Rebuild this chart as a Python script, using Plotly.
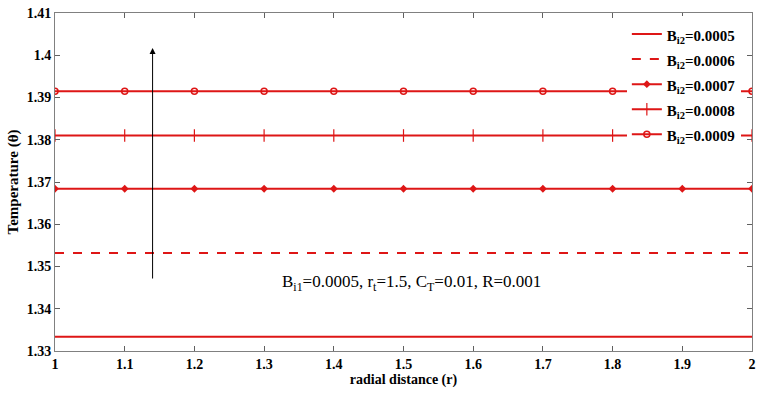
import plotly.graph_objects as go

# radial positions where the temperature profile is sampled
radial = [1.0, 1.1, 1.2, 1.3, 1.4, 1.5, 1.6, 1.7, 1.8, 1.9, 2.0]

# temperature for each value of Bi2 (profiles are flat in r)
bi2_labels = ["0.0005", "0.0006", "0.0007", "0.0008", "0.0009"]
theta_0005 = [1.3334] * 11
theta_0006 = [1.3532] * 11
theta_0007 = [1.3684] * 11
theta_0008 = [1.3810] * 11
theta_0009 = [1.3915] * 11
series = [theta_0005, theta_0006, theta_0007, theta_0008, theta_0009]

y_ticks = [1.33, 1.34, 1.35, 1.36, 1.37, 1.38, 1.39, 1.40, 1.41]
y_tick_text = ["1.33", "1.34", "1.35", "1.36", "1.37", "1.38", "1.39", "1.4", "1.41"]
x_ticks = [1.0, 1.1, 1.2, 1.3, 1.4, 1.5, 1.6, 1.7, 1.8, 1.9, 2.0]
x_tick_text = ["1", "1.1", "1.2", "1.3", "1.4", "1.5", "1.6", "1.7", "1.8", "1.9", "2"]

RED = "rgb(222,22,22)"
FONT = "Liberation Serif, Times New Roman, serif"

styles = [
    dict(mode="lines", line=dict(color=RED, width=2)),
    dict(mode="lines", line=dict(color=RED, width=2, dash="dash")),
    dict(mode="lines+markers", line=dict(color=RED, width=2),
         marker=dict(symbol="diamond", size=6, color=RED)),
    dict(mode="lines+markers", line=dict(color=RED, width=2),
         marker=dict(symbol="line-ns", size=9, line=dict(color=RED, width=1.2))),
    dict(mode="lines+markers", line=dict(color=RED, width=2),
         marker=dict(symbol="circle-open", size=6, line=dict(color=RED, width=1.5))),
]

fig = go.Figure()
for lab, vals, st in zip(bi2_labels, series, styles):
    name = '<span style="font-size:15px"><b>B<sub>i2</sub>=%s</b></span>' % lab
    fig.add_trace(go.Scatter(x=radial, y=vals, name=name, **st))

# arrow indicating increasing Bi2
fig.add_annotation(x=1.14, y=1.4017, ax=1.14, ay=1.3468, xref="x", yref="y",
                   axref="x", ayref="y", showarrow=True, arrowhead=2, arrowsize=1.2,
                   arrowwidth=1, arrowcolor="black", text="")

fig.add_annotation(x=1.512, y=1.3461, xref="x", yref="y", showarrow=False,
                   text="B<sub>i1</sub>=0.0005, r<sub>t</sub>=1.5, C<sub>T</sub>=0.01, R=0.001",
                   font=dict(family=FONT, size=17, color="black"))

axis_common = dict(showline=True, linecolor="#808080", linewidth=1, mirror="ticks",
                   ticks="inside", ticklen=5, tickcolor="#606060", showgrid=False,
                   zeroline=False, ticklabeloverflow="allow",
                   tickfont=dict(family=FONT, size=14, color="black"))

fig.update_xaxes(range=[1, 2], tickvals=x_ticks, ticktext=["<b>%s</b>" % t for t in x_tick_text],
                 title=dict(text="<b>radial distance (r)</b>", standoff=3,
                            font=dict(family=FONT, size=14, color="black")),
                 **axis_common)
fig.update_yaxes(range=[1.33, 1.41], tickvals=y_ticks, ticktext=["<b>%s</b>" % t for t in y_tick_text],
                 title=dict(text="<b>Temperature (θ)</b>", standoff=4,
                            font=dict(family=FONT, size=15, color="black")),
                 **axis_common)

fig.update_layout(
    width=758, height=394,
    margin=dict(l=55, r=2, t=13, b=43),
    paper_bgcolor="white", plot_bgcolor="white",
    legend=dict(x=0.984, y=0.99, xanchor="right", yanchor="top", bgcolor="white",
                borderwidth=0, font=dict(family=FONT, size=17, color="black"),
                tracegroupgap=0, itemwidth=30),
    showlegend=True,
)

fig.write_html("out.html")
